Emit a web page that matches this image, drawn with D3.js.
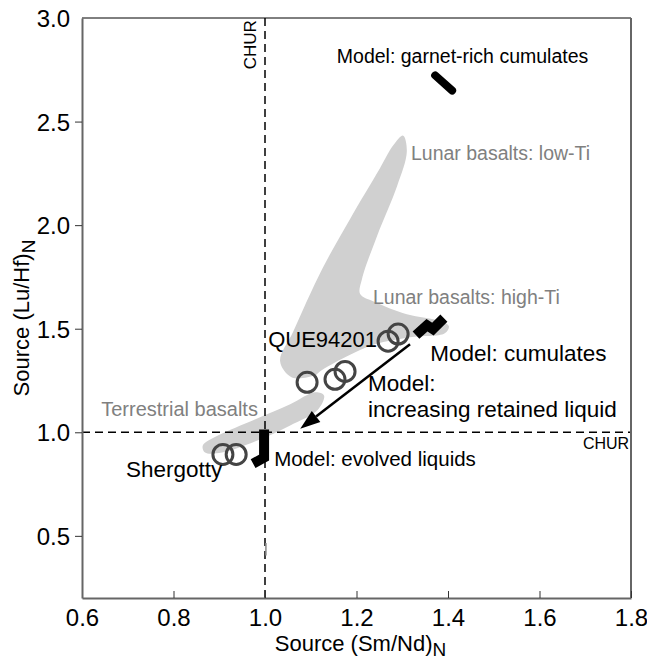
<!DOCTYPE html>
<html>
<head>
<meta charset="utf-8">
<script src="https://cdn.jsdelivr.net/npm/d3@7"></script>
<style>
  body { margin: 0; background: #fff; }
  svg { font-family: Arial, "Liberation Sans", Helvetica, sans-serif; }
</style>
</head>
<body>
<svg id="chart"></svg>
<script>
// axis ticks
var xTicks = [0.6, 0.8, 1.0, 1.2, 1.4, 1.6, 1.8];
var yTicks = [0.5, 1.0, 1.5, 2.0, 2.5, 3.0];

// grey fields (outline of the data fields, Sm/Nd vs Lu/Hf)
var lunarField = [
  [1.302, 2.432], [1.310, 2.355], [1.289, 2.190], [1.245, 1.948], [1.212, 1.740],
  [1.208, 1.667], [1.240, 1.629], [1.310, 1.570], [1.383, 1.537], [1.402, 1.512],
  [1.393, 1.478], [1.317, 1.459], [1.240, 1.425], [1.175, 1.362], [1.120, 1.294],
  [1.109, 1.275], [1.059, 1.265], [1.033, 1.343], [1.061, 1.483], [1.125, 1.788],
  [1.186, 2.030], [1.251, 2.273], [1.280, 2.384]
];
var terrestrialField = [
  [0.864, 0.936], [0.897, 0.984], [0.978, 1.062], [1.055, 1.135], [1.109, 1.193],
  [1.129, 1.178], [1.116, 1.110], [1.055, 1.033], [0.978, 0.955], [0.906, 0.902],
  [0.869, 0.902]
];

// samples (open circles)
var sampleSmNd = [0.908, 0.937, 1.092, 1.153, 1.175, 1.269, 1.291];
var sampleLuHf = [0.893, 0.893, 1.241, 1.256, 1.294, 1.440, 1.474];

// model curves
var garnetModel = [[1.372, 2.723], [1.409, 2.650]];
var cumulateModel = [[1.330, 1.469], [1.354, 1.517], [1.367, 1.498], [1.391, 1.551]];
var evolvedModel = [[0.998, 1.014], [0.998, 0.878], [0.974, 0.849]];
var retainedArrow = [[1.317, 1.425], [1.077, 1.017]];
var strayMark = [[1.002, 0.465], [1.002, 0.405]];

// labels [text, x, y, colour]
var labels = [
  ["Model: garnet-rich cumulates", 1.157, 2.781, "#000"],
  ["Lunar basalts: low-Ti", 1.319, 2.316, "#808080"],
  ["Lunar basalts: high-Ti", 1.236, 1.619, "#808080"],
  ["QUE94201", 1.007, 1.411, "#000"],
  ["Model: cumulates", 1.361, 1.343, "#000"],
  ["Model:", 1.225, 1.198, "#000"],
  ["increasing retained liquid", 1.225, 1.072, "#000"],
  ["Terrestrial basalts", 0.642, 1.081, "#808080"],
  ["Model: evolved liquids", 1.020, 0.839, "#000"],
  ["Shergotty", 0.696, 0.786, "#000"]
];
var labelSizes = [19.5, 19.5, 19.5, 22, 22.5, 22.5, 22.5, 20, 20.5, 22.5];

var width = 647, height = 660;
var margin = {top: 18, right: 16, bottom: 62, left: 82};

var svg = d3.select("#chart")
    .attr("width", width)
    .attr("height", height);

var x = d3.scaleLinear().domain([0.6, 1.8]).range([margin.left, width - margin.right]);
var y = d3.scaleLinear().domain([0.2, 3.0]).range([height - margin.bottom, margin.top]);

var line = d3.line().x(function(d) { return x(d[0]); }).y(function(d) { return y(d[1]); });
var blob = d3.line().x(function(d) { return x(d[0]); }).y(function(d) { return y(d[1]); })
    .curve(d3.curveCatmullRomClosed.alpha(0.5));

// grey fields
svg.append("path").attr("d", blob(lunarField)).attr("fill", "#d0d0d0");
svg.append("path").attr("d", blob(terrestrialField)).attr("fill", "#d0d0d0");

// CHUR reference lines
svg.append("line")
    .attr("x1", x(1.0)).attr("x2", x(1.0))
    .attr("y1", y(3.0)).attr("y2", y(0.2))
    .attr("stroke", "#000").attr("stroke-width", 1.5).attr("stroke-dasharray", "8,5");
svg.append("line")
    .attr("x1", x(0.6)).attr("x2", x(1.8))
    .attr("y1", y(1.0)).attr("y2", y(1.0))
    .attr("stroke", "#000").attr("stroke-width", 1.5).attr("stroke-dasharray", "8,5");

svg.append("path").attr("d", line(strayMark))
    .attr("stroke", "#888").attr("stroke-width", 1.5).attr("fill", "none");

// sample circles
svg.selectAll("circle.sample")
    .data(sampleSmNd)
  .enter().append("circle")
    .attr("class", "sample")
    .attr("cx", function(d) { return x(d); })
    .attr("cy", function(d, i) { return y(sampleLuHf[i]); })
    .attr("r", 10)
    .attr("fill", "none")
    .attr("stroke", "#444")
    .attr("stroke-width", 3);

// model paths
svg.append("path").attr("d", line(garnetModel))
    .attr("stroke", "#000").attr("stroke-width", 8).attr("stroke-linecap", "round").attr("fill", "none");
svg.append("path").attr("d", line(cumulateModel))
    .attr("stroke", "#000").attr("stroke-width", 10).attr("stroke-linejoin", "miter").attr("fill", "none");
svg.append("path").attr("d", line(evolvedModel))
    .attr("stroke", "#000").attr("stroke-width", 10).attr("stroke-linejoin", "miter").attr("fill", "none");

// arrow
var a0 = [x(retainedArrow[0][0]), y(retainedArrow[0][1])],
    a1 = [x(retainedArrow[1][0]), y(retainedArrow[1][1])];
var ang = Math.atan2(a1[1] - a0[1], a1[0] - a0[0]);
var headLen = 20, headW = 7;
var base = [a1[0] - headLen * Math.cos(ang), a1[1] - headLen * Math.sin(ang)];
svg.append("line")
    .attr("x1", a0[0]).attr("y1", a0[1]).attr("x2", base[0]).attr("y2", base[1])
    .attr("stroke", "#000").attr("stroke-width", 2.5);
svg.append("path")
    .attr("d", "M" + a1[0] + "," + a1[1] +
      "L" + (base[0] + headW * Math.sin(ang)) + "," + (base[1] - headW * Math.cos(ang)) +
      "L" + (base[0] - headW * Math.sin(ang)) + "," + (base[1] + headW * Math.cos(ang)) + "Z")
    .attr("fill", "#000");

// labels
svg.selectAll("text.label")
    .data(labels)
  .enter().append("text")
    .attr("class", "label")
    .attr("x", function(d) { return x(d[1]); })
    .attr("y", function(d) { return y(d[2]); })
    .attr("fill", function(d) { return d[3]; })
    .style("font-size", function(d, i) { return labelSizes[i] + "px"; })
    .text(function(d) { return d[0]; });

svg.append("text")
    .attr("x", x(1.796)).attr("y", y(0.917))
    .attr("text-anchor", "end")
    .style("font-size", "16px")
    .text("CHUR");
svg.append("text")
    .attr("transform", "translate(" + (x(1.0) - 9) + "," + y(2.752) + ")rotate(-90)")
    .style("font-size", "17px")
    .text("CHUR");

// frame
svg.append("line")
    .attr("x1", x(0.6)).attr("x2", x(1.8)).attr("y1", y(3.0)).attr("y2", y(3.0))
    .attr("stroke", "#000").attr("stroke-width", 1);
svg.append("line")
    .attr("x1", x(1.8)).attr("x2", x(1.8)).attr("y1", y(3.0)).attr("y2", y(0.2))
    .attr("stroke", "#666").attr("stroke-width", 2);

// axes
var xAxis = svg.append("g")
    .attr("transform", "translate(0," + y(0.2) + ")")
    .call(d3.axisBottom(x).tickValues(xTicks).tickFormat(d3.format(".1f")).tickSizeInner(-7).tickSizeOuter(0).tickPadding(11));
var yAxis = svg.append("g")
    .attr("transform", "translate(" + x(0.6) + ",0)")
    .call(d3.axisLeft(y).tickValues(yTicks).tickFormat(d3.format(".1f")).tickSizeInner(7).tickSizeOuter(0).tickPadding(5));

[xAxis, yAxis].forEach(function(g) {
  g.select(".domain").attr("stroke", "#666").attr("stroke-width", 2);
  g.selectAll(".tick line").attr("stroke", "#333");
  g.selectAll(".tick text").style("font-size", "24px").attr("fill", "#000")
      .style("font-family", "Arial, 'Liberation Sans', sans-serif");
});
yAxis.selectAll(".tick").filter(function(d) { return d === 3.0; }).select("line").remove();
yAxis.selectAll(".tick text").attr("dy", "0.36em");

// axis titles
var xt = svg.append("text")
    .attr("x", (x(0.6) + x(1.8)) / 2 + 4)
    .attr("y", height - 9)
    .attr("text-anchor", "middle")
    .style("font-size", "22px");
xt.append("tspan").text("Source (Sm/Nd)");
xt.append("tspan").attr("baseline-shift", "-25%").style("font-size", "19px").text("N");

var yt = svg.append("text")
    .attr("transform", "translate(29," + (y(1.6) + 10) + ")rotate(-90)")
    .attr("text-anchor", "middle")
    .style("font-size", "22px");
yt.append("tspan").text("Source (Lu/Hf)");
yt.append("tspan").attr("baseline-shift", "-30%").style("font-size", "19px").text("N");
</script>
</body>
</html>
